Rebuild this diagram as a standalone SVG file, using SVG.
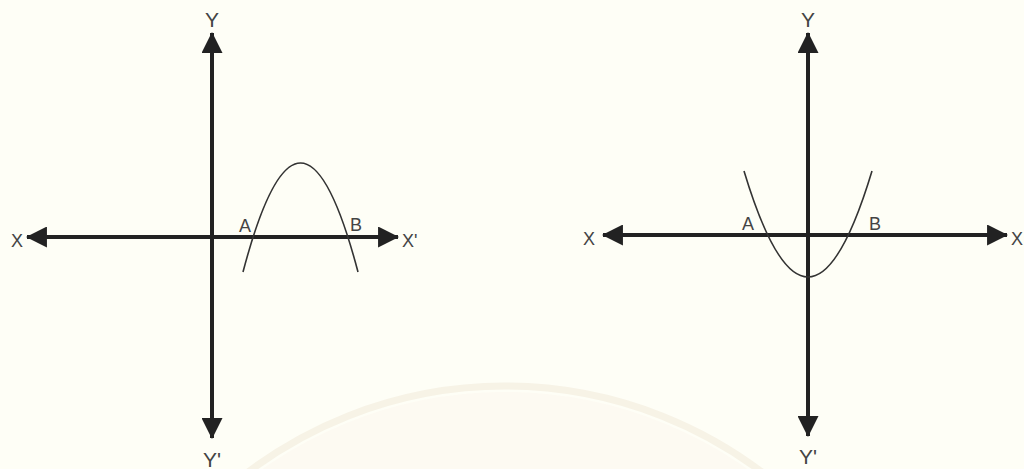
<svg xmlns="http://www.w3.org/2000/svg" width="1024" height="469" viewBox="0 0 1024 469">
  <style>
    .axis { stroke: #222; stroke-width: 4; fill: none; }
    .curve { stroke: #333; stroke-width: 1.6; fill: none; }
    .lbl { font-family: "Liberation Sans", Arial, sans-serif; fill: #444; font-size: 18px; }
    .big { font-size: 21px; }
  </style>
  <defs>
    <marker id="arrow" viewBox="0 0 20 20" refX="19" refY="10" markerWidth="21" markerHeight="21" markerUnits="userSpaceOnUse" orient="auto-start-reverse">
      <path d="M0,0 L20,10 L0,20 Z" fill="#222"/>
    </marker>
  </defs>
  <rect width="1024" height="469" fill="#fefef6"/>
  <g id="watermark" opacity="0.6">
    <circle cx="505" cy="812" r="426" fill="none" stroke="#f3ecdc" stroke-width="7"/>
    <circle cx="505" cy="812" r="420" fill="#fdf8f0" stroke="none"/>
  </g>

  <g id="graph-left">
    <g id="axes-left">
      <line class="axis" x1="212" y1="240" x2="212" y2="33" marker-end="url(#arrow)"/>
      <line class="axis" x1="212" y1="236" x2="212" y2="438" marker-end="url(#arrow)"/>
      <line class="axis" x1="212" y1="237" x2="27" y2="237" marker-end="url(#arrow)"/>
      <line class="axis" x1="210" y1="237" x2="398" y2="237" marker-end="url(#arrow)"/>
    </g>
    <path id="parabola-left" class="curve" d="M243,272 Q300.5,54 358,272"/>
    <text class="lbl big" x="212" y="27" text-anchor="middle">Y</text>
    <text class="lbl big" x="212" y="467" text-anchor="middle">Y'</text>
    <text class="lbl" x="17" y="247" text-anchor="middle">X</text>
    <text class="lbl" x="402" y="247">X'</text>
    <text class="lbl" x="245" y="232" text-anchor="middle">A</text>
    <text class="lbl" x="356" y="231" text-anchor="middle">B</text>
  </g>

  <g id="graph-right">
    <g id="axes-right">
      <line class="axis" x1="808" y1="240" x2="808" y2="33" marker-end="url(#arrow)"/>
      <line class="axis" x1="808" y1="232" x2="808" y2="436" marker-end="url(#arrow)"/>
      <line class="axis" x1="810" y1="235" x2="603" y2="235" marker-end="url(#arrow)"/>
      <line class="axis" x1="806" y1="235" x2="1007" y2="235" marker-end="url(#arrow)"/>
    </g>
    <path id="parabola-right" class="curve" d="M744,171 Q808,383 872,171"/>
    <text class="lbl big" x="808" y="27" text-anchor="middle">Y</text>
    <text class="lbl big" x="808" y="464" text-anchor="middle">Y'</text>
    <text class="lbl" x="589" y="245" text-anchor="middle">X</text>
    <text class="lbl" x="1011" y="245">X</text>
    <text class="lbl" x="748" y="230" text-anchor="middle">A</text>
    <text class="lbl" x="875" y="230" text-anchor="middle">B</text>
  </g>
</svg>
